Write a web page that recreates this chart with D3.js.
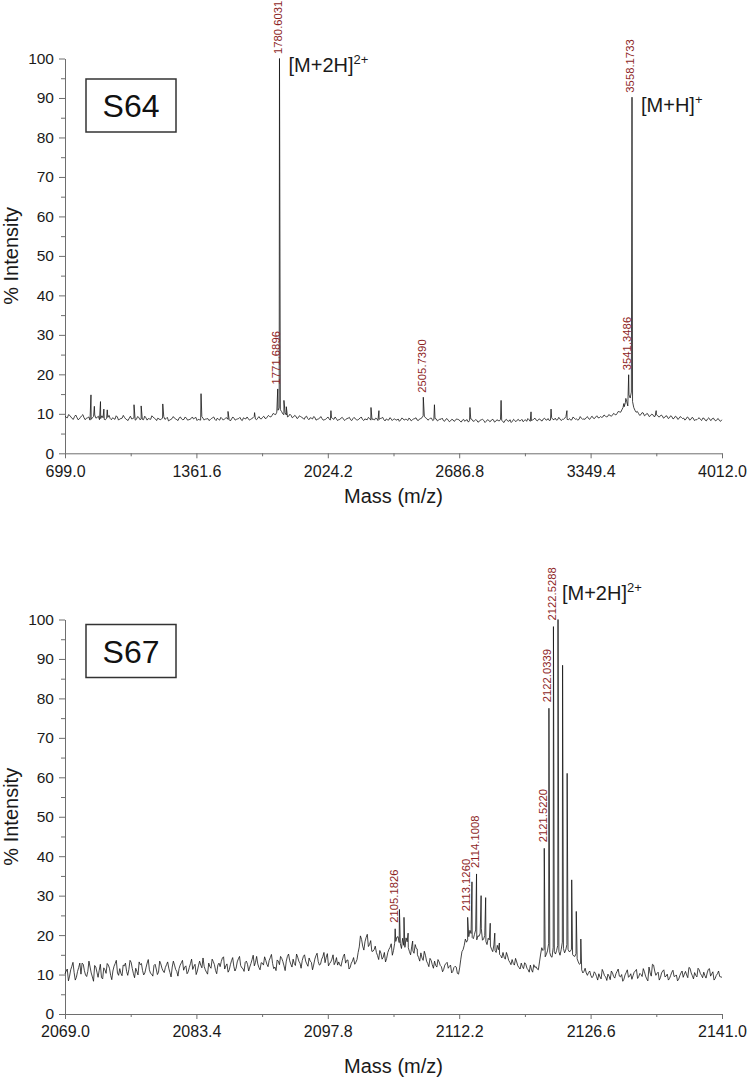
<!DOCTYPE html>
<html>
<head>
<meta charset="utf-8">
<script src="https://cdn.jsdelivr.net/npm/d3@7"></script>
<style>
body { margin: 0; background: #fff; }
svg { display: block; font-family: "Liberation Sans", Arial, Helvetica, sans-serif; }
</style>
</head>
<body>
<svg id="chart" width="750" height="1079"></svg>
<script>
var width = 750,
	height = 1079;

// ---- S64 spectrum: baseline sampled every 12 Da from 699 (plus in-between samples), and peaks
var s64Start = 699.0, s64Step = 12;
var s64Baseline = [
	9.4, 9.0, 9.6, 8.8, 9.3, 9.1, 8.7, 9.5, 9.0, 8.9,
	9.2, 8.6, 9.3, 8.9, 9.4, 8.8, 9.0, 8.5, 9.1, 8.8,
	9.0, 8.6, 9.2, 8.7, 8.9, 9.1, 8.5, 8.9, 8.7, 9.0,
	8.6, 9.1, 8.7, 8.5, 9.0, 8.8, 8.6, 9.2, 8.7, 8.9,
	8.5, 8.9, 8.6, 9.1, 8.4, 8.8, 8.9, 8.5, 9.0, 8.7,
	8.6, 8.9, 8.5, 8.8, 8.7, 9.1, 8.6, 8.4, 8.9, 8.7,
	8.8, 8.5, 9.0, 8.6, 8.9, 8.4, 8.8, 8.7, 9.0, 8.5,
	8.7, 8.9, 8.6, 8.8, 8.5, 9.0, 8.7, 8.8, 8.6, 9.0,
	8.7, 8.9, 8.8, 9.1, 8.9, 9.2, 9.3, 9.6, 9.9, 10.4,
	11.5, 10.6, 9.8, 9.7, 9.4, 9.6, 9.2, 9.4, 9.0, 9.3,
	8.9, 9.2, 8.8, 9.0, 8.7, 9.1, 8.6, 8.9, 8.8, 8.5,
	8.9, 8.7, 9.0, 8.6, 8.8, 8.5, 8.9, 8.7, 8.6, 8.9,
	8.5, 8.8, 8.7, 8.4, 8.9, 8.6, 8.7, 8.5, 8.8, 8.6,
	8.4, 8.8, 8.6, 8.9, 8.5, 8.7, 8.4, 8.8, 8.6, 8.5,
	8.7, 8.4, 8.8, 8.6, 8.3, 8.7, 8.5, 8.8, 8.4, 8.7,
	9.0, 9.4, 8.8, 8.6, 8.9, 8.5, 8.7, 8.4, 8.6, 8.3,
	8.6, 8.4, 8.2, 8.5, 8.3, 8.6, 8.2, 8.4, 8.1, 8.5,
	8.3, 8.6, 8.2, 8.4, 8.0, 8.5, 8.3, 8.1, 8.4, 8.2,
	8.5, 8.1, 8.3, 8.6, 8.0, 8.4, 8.2, 8.5, 8.1, 8.3,
	8.4, 8.2, 8.6, 8.3, 8.1, 8.5, 8.3, 8.7, 8.4, 8.6,
	8.3, 8.7, 8.5, 8.8, 8.4, 8.6, 8.9, 8.5, 8.7, 8.6,
	8.9, 8.6, 8.8, 8.5, 8.9, 8.7, 8.6, 8.9, 8.7, 9.0,
	8.8, 9.1, 8.9, 9.2, 9.0, 9.3, 9.2, 9.5, 9.3, 9.6,
	9.6, 9.9, 10.1, 10.5, 11.0, 11.8, 13.2, 14.8, 15.5, 11.6,
	10.4, 10.1, 9.8, 10.2, 9.7, 9.9, 9.5, 9.8, 9.4, 9.6,
	9.3, 9.5, 9.1, 9.4, 9.0, 9.3, 8.9, 9.2, 8.8, 9.1,
	8.9, 8.7, 9.0, 8.6, 8.9, 8.5, 8.8, 8.6, 8.9, 8.4,
	8.7, 8.5, 8.8, 8.4, 8.6, 8.3, 8.5
];
// samples halfway between the ones above (mass = start + (i + 0.5) * step)
var s64BaselineMid = [
	9.1, 9.8, 9.2, 8.6, 9.7, 8.5, 9.1, 9.8, 8.5, 9.0,
	8.4, 9.0, 9.7, 9.1, 8.5, 9.5, 8.6, 8.9, 9.6, 8.5,
	8.8, 9.5, 8.4, 8.8, 9.6, 8.7, 8.3, 9.4, 8.8, 8.4,
	9.3, 8.5, 8.6, 9.4, 8.4, 8.7, 9.5, 8.9, 8.3, 8.7,
	8.7, 9.3, 8.8, 8.2, 8.6, 9.3, 8.7, 8.3, 9.2, 8.5,
	9.2, 8.4, 8.6, 9.2, 8.9, 8.3, 8.5, 9.3, 8.4, 8.7,
	8.3, 8.8, 9.2, 8.3, 8.6, 9.1, 8.4, 8.9, 8.6, 8.2,
	9.2, 8.4, 8.7, 9.1, 8.3, 8.8, 9.2, 8.4, 8.8, 9.3,
	8.5, 9.3, 8.7, 9.4, 8.8, 9.6, 9.2, 10.1, 9.8, 10.9,
	11.0, 10.0, 10.3, 9.2, 9.9, 9.0, 9.6, 8.8, 9.5, 9.1,
	8.6, 9.4, 8.5, 8.9, 9.3, 8.4, 8.7, 9.3, 8.4, 8.6,
	9.2, 8.4, 8.8, 9.2, 8.3, 8.6, 9.1, 8.3, 8.8, 9.1,
	8.3, 9.1, 8.5, 8.7, 9.2, 8.3, 8.6, 9.1, 8.4, 8.7,
	8.9, 8.3, 8.8, 9.1, 8.2, 8.5, 9.0, 8.3, 8.7, 8.4,
	8.1, 8.9, 8.4, 8.6, 8.9, 8.2, 8.7, 9.0, 8.3, 8.8,
	9.5, 9.0, 8.4, 8.9, 8.3, 8.8, 8.2, 8.7, 8.9, 8.1,
	8.8, 8.0, 8.6, 8.1, 8.7, 8.5, 7.9, 8.6, 8.4, 7.9,
	8.7, 8.1, 8.5, 7.9, 8.4, 8.6, 7.8, 8.5, 8.0, 8.6,
	7.9, 8.5, 8.2, 8.4, 7.8, 8.6, 8.1, 7.8, 8.6, 8.0,
	8.6, 8.3, 8.0, 8.5, 8.8, 8.1, 8.4, 8.9, 8.2, 8.7,
	8.2, 8.9, 8.4, 8.3, 9.0, 8.5, 8.4, 9.1, 8.3, 8.6,
	9.3, 8.5, 8.4, 9.2, 8.6, 8.4, 9.3, 8.6, 8.6, 9.3,
	8.6, 9.4, 8.8, 9.5, 9.0, 9.1, 9.7, 9.2, 9.8, 9.4,
	10.1, 9.7, 10.6, 10.4, 11.6, 12.9, 12.0, 14.0, 13.1, 10.9,
	10.6, 9.6, 10.3, 9.5, 10.1, 9.3, 9.9, 9.3, 9.8, 9.2,
	9.7, 8.9, 9.5, 8.8, 9.5, 8.7, 9.4, 8.6, 9.3, 8.8,
	8.4, 9.2, 8.4, 9.1, 8.3, 8.5, 9.0, 8.3, 8.9, 8.2,
	9.0, 8.3, 8.9, 8.2, 8.8, 8.1
];
var s64Peaks = [
	[830, 14.8], [847, 11.9], [878, 13.1], [895, 11.2], [912, 11.0],
	[1047, 12.3], [1083, 12.0], [1192, 12.5], [1385, 15.1], [1521, 10.6],
	[1655, 10.3], [1771.6896, 16.3], [1780.6031, 100], [1803, 13.4], [1815, 11.8],
	[2040, 10.8], [2242, 11.6], [2282, 10.8], [2505.7390, 14.2], [2562, 12.3],
	[2741, 11.6], [2898, 13.4], [3049, 10.5], [3150, 11.2], [3230, 10.8],
	[3517, 12.6], [3527, 13.9], [3541.3486, 19.9], [3558.1733, 90.2], [3680, 10.8]
];
var s64Labelled = [1771.6896, 1780.6031, 2505.7390, 3541.3486, 3558.1733];
var s64Ticks = [699.0, 1361.6, 2024.2, 2686.8, 3349.4, 4012.0];

// ---- S67 spectrum: baseline sampled every 0.25 Da from 2069 (plus in-between samples), and peaks
var s67Start = 2069.0, s67Step = 0.25;
var s67Baseline = [
	10.2, 11.4, 9.6, 12.1, 10.5, 9.3, 11.8, 10.1,
	12.6, 9.9, 10.8, 11.9, 9.4, 12.3, 10.6, 11.1,
	9.2, 11.7, 10.3, 12.4, 9.8, 10.9, 12.8, 10.4,
	11.5, 9.7, 12.2, 10.8, 11.3, 13.1, 10.2, 11.6,
	9.9, 12.5, 11.0, 10.4, 12.9, 11.2, 10.1, 12.3,
	11.4, 10.6, 12.7, 10.9, 11.8, 13.2, 10.5, 11.9,
	12.4, 10.8, 11.5, 13.0, 11.1, 12.2, 10.7, 12.8,
	11.3, 12.6, 10.9, 13.4, 11.7, 12.1, 10.6, 12.9,
	11.6, 13.3, 11.0, 12.4, 12.0, 14.2, 11.4, 12.7,
	11.2, 13.5, 12.1, 11.6, 14.0, 12.3, 11.5, 13.1,
	12.6, 11.9, 13.8, 12.2, 14.6, 11.8, 13.0, 12.4,
	13.6, 12.0, 14.3, 12.8, 11.9, 13.7, 12.5, 14.1,
	12.2, 13.4, 15.2, 12.6, 13.9, 12.3, 14.4, 12.9,
	13.6, 15.0, 12.7, 14.2, 13.1, 12.4, 14.8, 13.3,
	12.6, 14.5, 13.0, 15.3, 12.8, 13.9, 12.5, 14.3,
	13.2, 12.1, 14.6, 12.9, 13.7, 11.8, 13.4, 12.6,
	13.8, 17.0, 18.9, 16.2, 19.4, 17.1, 18.6, 15.9,
	17.2, 14.8, 16.1, 13.9, 15.6, 14.1, 16.4, 17.8,
	16.1, 18.4, 19.6, 17.8, 19.2, 16.9, 18.3, 15.8,
	17.2, 15.4, 16.6, 14.3, 15.5, 13.6, 14.9, 12.8,
	14.1, 12.5, 13.4, 11.9, 13.2, 12.0, 11.3, 12.8,
	11.6, 12.4, 10.8, 12.1, 10.3, 11.7, 15.8, 17.4,
	18.2, 19.6, 20.4, 19.1, 21.3, 19.8, 20.5, 18.7,
	19.9, 17.6, 18.8, 16.4, 17.5, 15.6, 16.3, 14.8,
	15.6, 13.9, 14.7, 13.1, 13.8, 12.4, 13.2, 11.8,
	12.9, 11.5, 12.6, 11.2, 12.4, 10.6, 11.8, 11.4,
	13.2, 16.8, 16.4, 15.1, 17.8, 14.6, 16.9, 15.2,
	17.4, 14.9, 18.2, 15.5, 17.6, 15.8, 16.4, 14.7,
	15.3, 13.2, 12.8, 10.4, 11.6, 9.8, 10.9, 9.2,
	10.7, 9.5, 10.2, 8.9, 10.6, 9.4, 10.1, 8.7,
	10.4, 9.1, 10.8, 9.6, 10.0, 8.8, 10.5, 9.3,
	10.2, 9.7, 10.9, 9.0, 10.3, 9.5, 10.7, 8.9,
	11.9, 9.6, 12.4, 9.8, 10.6, 9.2, 10.9, 9.4,
	10.1, 9.0, 10.6, 9.5, 9.9, 8.8, 10.4, 9.3,
	10.8, 9.2, 11.6, 9.7, 10.5, 9.4, 11.2, 9.8,
	10.6, 9.1, 11.3, 9.6, 10.7, 9.0, 10.2, 9.5, 9.3
];
var s67BaselineMid = [
	10.9, 8.4, 11.2, 13.1, 8.6, 10.8, 12.9, 12.9,
	11.0, 9.5, 13.4, 10.4, 8.3, 11.9, 9.3, 12.6,
	8.9, 11.2, 12.8, 11.6, 8.7, 12.1, 13.6, 9.8,
	10.3, 12.4, 12.9, 9.8, 13.6, 11.5, 9.2, 10.8,
	13.2, 12.8, 9.9, 11.7, 13.8, 10.3, 9.6, 12.6,
	10.0, 13.4, 11.6, 10.5, 12.5, 11.6, 9.4, 13.4,
	11.3, 9.6, 12.4, 13.6, 11.9, 10.2, 11.8, 13.9,
	12.1, 10.0, 12.2, 12.4, 14.2, 11.2, 10.1, 12.0,
	13.9, 12.5, 10.2, 12.9, 13.3, 14.5, 12.2, 10.6,
	12.5, 14.3, 10.9, 13.2, 14.6, 11.7, 10.8, 13.4,
	10.9, 12.8, 14.9, 13.1, 12.7, 11.2, 12.9, 14.5,
	12.6, 13.6, 15.1, 11.5, 11.0, 13.4, 14.6, 13.3,
	11.0, 14.6, 13.5, 11.9, 12.8, 15.2, 13.4, 11.6,
	14.6, 13.4, 12.1, 13.4, 11.2, 13.9, 15.4, 12.4,
	13.9, 15.6, 14.4, 12.2, 13.2, 15.0, 13.1, 12.4,
	12.4, 13.5, 15.2, 13.6, 11.4, 12.9, 14.3, 13.1,
	15.6, 19.8, 17.2, 18.3, 20.2, 17.6, 15.9, 16.3,
	15.6, 13.8, 15.4, 14.4, 13.2, 15.6, 16.9, 14.9,
	17.9, 19.5, 18.1, 16.6, 17.4, 19.3, 16.8, 15.0,
	16.0, 17.6, 15.0, 13.4, 14.2, 15.9, 13.4, 12.0,
	13.6, 11.6, 12.3, 13.8, 12.3, 10.7, 12.4, 13.1,
	12.1, 10.4, 11.8, 11.9, 10.1, 13.9, 16.3, 19.0,
	18.8, 21.2, 19.4, 20.2, 18.8, 19.7, 21.6, 19.0,
	18.4, 19.2, 17.2, 15.8, 16.1, 17.4, 15.1, 14.2,
	14.4, 15.6, 13.6, 12.5, 12.8, 14.1, 12.2, 11.4,
	12.0, 13.0, 11.6, 10.6, 11.2, 12.5, 12.0, 11.2,
	15.2, 16.1, 14.5, 16.0, 15.6, 14.4, 15.8, 16.1,
	15.8, 16.3, 16.6, 16.2, 16.4, 15.9, 15.1, 14.6,
	14.0, 12.6, 11.2, 10.8, 10.4, 10.5, 9.8, 9.6,
	10.3, 8.6, 9.4, 11.3, 9.7, 8.5, 9.6, 10.9,
	9.5, 10.2, 11.4, 9.4, 8.3, 9.9, 11.2, 9.6,
	8.8, 10.6, 11.3, 9.5, 10.0, 11.5, 9.6, 8.4,
	10.4, 12.6, 10.9, 10.3, 8.6, 10.4, 11.2, 9.6,
	8.6, 9.8, 11.1, 9.6, 8.4, 9.7, 10.9, 10.1,
	9.9, 11.8, 10.4, 8.9, 9.8, 11.6, 10.3, 9.2,
	9.7, 10.4, 11.5, 10.2, 8.6, 9.8, 10.9, 9.4
];
var s67Peaks = [
	[2105.1826, 21.6], [2105.65, 26.5], [2106.15, 24.5], [2106.6, 20.5], [2107.1, 18.5], [2107.6, 16.5],
	[2113.1260, 24.5], [2113.6, 33.5], [2114.1008, 35.5], [2114.6, 30.0], [2115.1, 29.5],
	[2115.6, 23.0], [2116.1, 20.5], [2116.6, 18.0],
	[2121.5220, 42.0], [2122.0339, 77.5], [2122.5288, 98.2], [2123.03, 100], [2123.53, 88.4],
	[2124.03, 61.0], [2124.53, 34.0], [2125.03, 26.0], [2125.53, 19.0]
];
var s67Labelled = [2105.1826, 2113.1260, 2114.1008, 2121.5220, 2122.0339, 2122.5288];
var s67Ticks = [2069.0, 2083.4, 2097.8, 2112.2, 2126.6, 2141.0];

var yTicks = [0, 10, 20, 30, 40, 50, 60, 70, 80, 90, 100];
var yMinor = [5, 15, 25, 35, 45, 55, 65, 75, 85, 95];

var svg = d3.select("#chart");

drawPanel({
	name: "S64", top: 58.5, bottom: 453.3, left: 65, right: 722,
	start: s64Start, step: s64Step, baseline: s64Baseline, baselineMid: s64BaselineMid,
	peaks: s64Peaks, labelled: s64Labelled, ticks: s64Ticks,
	boxTop: 79, xTitleGap: 50, labelGap: 4.5,
	ions: [
		{ text: "[M+2H]", sup: "2+", mass: 1780.6031, dx: 9, dy: 13.5 },
		{ text: "[M+H]", sup: "+", mass: 3558.1733, dx: 9, dy: 15 }
	]
});

drawPanel({
	name: "S67", top: 619.5, bottom: 1014, left: 65, right: 722,
	start: s67Start, step: s67Step, baseline: s67Baseline, baselineMid: s67BaselineMid,
	peaks: s67Peaks, labelled: s67Labelled, ticks: s67Ticks,
	boxTop: 624.5, xTitleGap: 59, labelGap: 6,
	ions: [
		{ text: "[M+2H]", sup: "2+", mass: 2122.5288, dx: 8.5, dy: -26.5 }
	]
});

function drawPanel(p) {
	var g = svg.append("g");

	var x = d3.scaleLinear()
		.domain([p.ticks[0], p.ticks[p.ticks.length - 1]])
		.range([p.left, p.right]);
	var y = d3.scaleLinear()
		.domain([0, 100])
		.range([p.bottom, p.top]);

	// minor x ticks halfway between labelled ones
	var xMinor = [];
	for (var i = 0; i < p.ticks.length - 1; i++) {
		xMinor.push((p.ticks[i] + p.ticks[i + 1]) / 2);
	}

	var xAxis = g.append("g")
		.attr("transform", "translate(0," + p.bottom + ")")
		.call(d3.axisBottom(x)
			.tickValues(p.ticks)
			.tickFormat(d3.format(".1f"))
			.tickSize(5)
			.tickSizeOuter(0)
			.tickPadding(7));
	g.append("g")
		.attr("transform", "translate(0," + p.bottom + ")")
		.call(d3.axisBottom(x).tickValues(xMinor).tickFormat("").tickSize(3).tickSizeOuter(0))
		.select(".domain").remove();

	var yAxis = g.append("g")
		.attr("transform", "translate(" + p.left + ",0)")
		.call(d3.axisLeft(y)
			.tickValues(yTicks)
			.tickSize(6)
			.tickSizeOuter(0)
			.tickPadding(5));
	g.append("g")
		.attr("transform", "translate(" + p.left + ",0)")
		.call(d3.axisLeft(y).tickValues(yMinor).tickFormat("").tickSize(4).tickSizeOuter(0))
		.select(".domain").remove();

	g.selectAll(".domain, .tick line").attr("stroke", "#6e6e6e").attr("stroke-width", 1);
	xAxis.selectAll("text").attr("font-size", 16).attr("fill", "#1a1a1a").attr("font-family", null);
	yAxis.selectAll("text").attr("font-size", 15.5).attr("fill", "#1a1a1a").attr("font-family", null);

	// spectrum trace: baseline samples merged with peak apexes
	var pts = p.baseline.map(function(v, i) {
		return [p.start + i * p.step, v];
	}).concat(p.baselineMid.map(function(v, i) {
		return [p.start + (i + 0.5) * p.step, v];
	})).concat(p.peaks);
	pts.sort(function(a, b) { return a[0] - b[0]; });

	var line = d3.line()
		.x(function(d) { return x(d[0]); })
		.y(function(d) { return y(d[1]); });

	g.append("path")
		.datum(pts)
		.attr("d", line)
		.attr("fill", "none")
		.attr("stroke", "#151515")
		.attr("stroke-width", 0.8)
		.attr("stroke-linejoin", "round");

	// red mass labels above labelled peaks
	var peakOf = function(m) {
		return p.peaks.find(function(d) { return Math.abs(d[0] - m) < 1e-6; });
	};
	g.selectAll(".plabel")
		.data(p.labelled)
		.enter()
		.append("text")
		.attr("class", "plabel")
		.attr("transform", function(m) {
			return "translate(" + (x(m) - 1.5) + "," + (y(peakOf(m)[1]) - p.labelGap) + ") rotate(-90)";
		})
		.attr("dy", "0.35em")
		.attr("font-size", 11.3)
		.attr("fill", "#8e1f1f")
		.text(function(m) { return d3.format(".4f")(m); });

	// ion annotations
	p.ions.forEach(function(ion) {
		var pk = peakOf(ion.mass);
		var t = g.append("text")
			.attr("x", x(ion.mass) + ion.dx)
			.attr("y", y(pk[1]) + ion.dy)
			.attr("font-size", 20)
			.attr("fill", "#1a1a1a");
		t.append("tspan").text(ion.text);
		t.append("tspan")
			.attr("dy", -8)
			.attr("font-size", 13)
			.text(ion.sup);
	});

	// sample box
	g.append("rect")
		.attr("x", 86)
		.attr("y", p.boxTop)
		.attr("width", 90)
		.attr("height", 53)
		.attr("fill", "none")
		.attr("stroke", "#333")
		.attr("stroke-width", 1.5);
	g.append("text")
		.attr("x", 131)
		.attr("y", p.boxTop + 38)
		.attr("text-anchor", "middle")
		.attr("font-size", 32)
		.attr("fill", "#111")
		.text(p.name);

	// axis titles
	g.append("text")
		.attr("transform", "translate(17.5," + ((p.top + p.bottom) / 2) + ") rotate(-90)")
		.attr("text-anchor", "middle")
		.attr("font-size", 20)
		.attr("fill", "#1a1a1a")
		.text("% Intensity");
	g.append("text")
		.attr("x", (p.left + p.right) / 2)
		.attr("y", p.bottom + p.xTitleGap)
		.attr("text-anchor", "middle")
		.attr("font-size", 20)
		.attr("fill", "#1a1a1a")
		.text("Mass (m/z)");
}
</script>
</body>
</html>
